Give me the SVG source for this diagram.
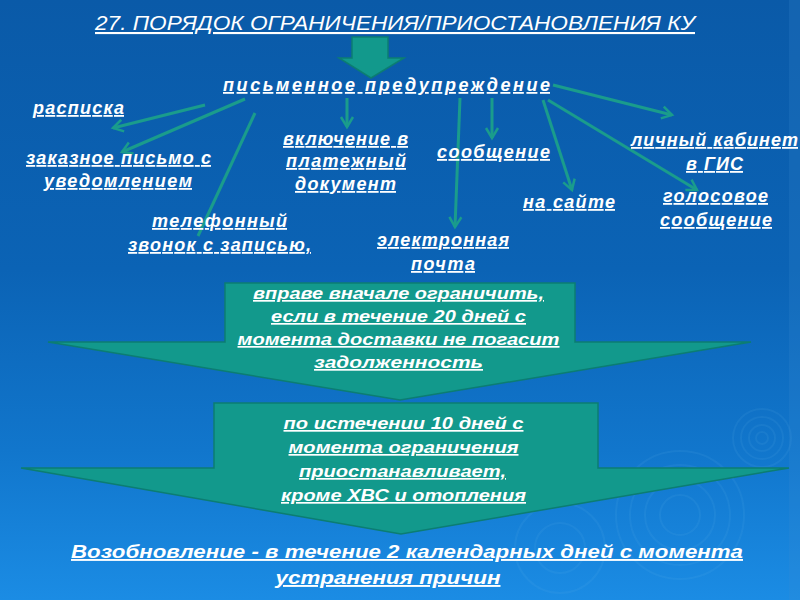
<svg xmlns="http://www.w3.org/2000/svg" width="800" height="600" viewBox="0 0 800 600">
<defs>
<linearGradient id="bg" x1="0" y1="0" x2="0" y2="1">
<stop offset="0" stop-color="#0a5aa8"/>
<stop offset="0.45" stop-color="#0b63b5"/>
<stop offset="0.75" stop-color="#1176cc"/>
<stop offset="1" stop-color="#1b8ce4"/>
</linearGradient>
<marker id="ah" markerUnits="userSpaceOnUse" markerWidth="16" markerHeight="16" refX="13" refY="8" orient="auto">
<path d="M3,2 L13,8 L3,14" fill="none" stroke="#1a9c8c" stroke-width="2.5"/>
</marker>
<style>
.lbl{font-family:"Liberation Sans",Arial,sans-serif;font-weight:bold;font-style:italic;font-size:18px;fill:#fff;text-decoration:underline;text-anchor:middle}
.ttl{font-family:"Liberation Sans",Arial,sans-serif;font-style:italic;font-size:21px;fill:#fff;text-decoration:underline;text-anchor:middle}
.arr{font-family:"Liberation Sans",Arial,sans-serif;font-weight:bold;font-style:italic;font-size:17px;fill:#fff;text-decoration:underline;text-anchor:middle}
.bot{font-family:"Liberation Sans",Arial,sans-serif;font-weight:bold;font-style:italic;font-size:19px;fill:#fff;text-decoration:underline;text-anchor:middle}
.con{stroke:#1a9c8c;stroke-width:3;fill:none}
.big{fill:#12998c;stroke:#0c7d72;stroke-width:1.5}
.rip{fill:none;stroke:#6ab8f0;stroke-opacity:0.1;stroke-width:2}
</style>
</defs>
<rect width="800" height="600" fill="url(#bg)"/>
<rect x="789" y="0" width="11" height="600" fill="#3a8ad0" opacity="0.2"/>
<g id="ripples">
<circle class="rip" cx="762" cy="438" r="6"/>
<circle class="rip" cx="762" cy="438" r="13"/>
<circle class="rip" cx="762" cy="438" r="21"/>
<circle class="rip" cx="762" cy="438" r="29"/>
<circle class="rip" cx="680" cy="515" r="20"/>
<circle class="rip" cx="680" cy="515" r="35"/>
<circle class="rip" cx="680" cy="515" r="50"/>
<circle class="rip" cx="680" cy="515" r="64"/>
<circle class="rip" cx="560" cy="548" r="25"/>
<circle class="rip" cx="560" cy="548" r="45"/>
</g>
<g id="title"><text class="ttl" x="395" y="30" textLength="600" lengthAdjust="spacingAndGlyphs">27. ПОРЯДОК ОГРАНИЧЕНИЯ/ПРИОСТАНОВЛЕНИЯ КУ</text></g>
<g id="top-arrow"><path class="big" d="M352,37 H388 V58 H404 L371,78 L339,58 H352 Z"/></g>
<g id="warning"><text class="lbl" x="386.5" y="91" textLength="327" lengthAdjust="spacing">письменное предупреждение</text></g>
<g id="connectors">
<line class="con" x1="205" y1="105" x2="113" y2="128" marker-end="url(#ah)"/>
<line class="con" x1="245" y1="99" x2="122" y2="152" marker-end="url(#ah)"/>
<line class="con" x1="255" y1="113" x2="198" y2="236"/>
<line class="con" x1="347" y1="98" x2="347" y2="127" marker-end="url(#ah)"/>
<line class="con" x1="460" y1="98" x2="455" y2="227" marker-end="url(#ah)"/>
<line class="con" x1="492" y1="98" x2="492" y2="138" marker-end="url(#ah)"/>
<line class="con" x1="543" y1="100" x2="572" y2="190" marker-end="url(#ah)"/>
<line class="con" x1="548" y1="100" x2="697" y2="190" marker-end="url(#ah)"/>
<line class="con" x1="553" y1="85" x2="672" y2="115" marker-end="url(#ah)"/>
</g>
<g id="n-raspiska"><text class="lbl" x="78.5" y="114" textLength="91" lengthAdjust="spacing">расписка</text></g>
<g id="n-zakaznoe"><text class="lbl" x="118.5" y="164" textLength="185" lengthAdjust="spacing">заказное письмо с</text><text class="lbl" x="118" y="187" textLength="148" lengthAdjust="spacing">уведомлением</text></g>
<g id="n-telefon"><text class="lbl" x="219.5" y="227" textLength="135" lengthAdjust="spacing">телефонный</text><text class="lbl" x="219.5" y="251" textLength="183" lengthAdjust="spacing">звонок с записью,</text></g>
<g id="n-vkluchenie"><text class="lbl" x="345.5" y="145" textLength="125" lengthAdjust="spacing">включение в</text><text class="lbl" x="346" y="167" textLength="120" lengthAdjust="spacing">платежный</text><text class="lbl" x="345.5" y="190" textLength="101" lengthAdjust="spacing">документ</text></g>
<g id="n-soobshenie"><text class="lbl" x="493.5" y="158" textLength="113" lengthAdjust="spacing">сообщение</text></g>
<g id="n-email"><text class="lbl" x="443" y="246" textLength="132" lengthAdjust="spacing">электронная</text><text class="lbl" x="443" y="270" textLength="64" lengthAdjust="spacing">почта</text></g>
<g id="n-site"><text class="lbl" x="569" y="208" textLength="92" lengthAdjust="spacing">на сайте</text></g>
<g id="n-gis"><text class="lbl" x="714.5" y="146" textLength="167" lengthAdjust="spacing">личный кабинет</text><text class="lbl" x="714.5" y="170" textLength="57" lengthAdjust="spacing">в ГИС</text></g>
<g id="n-voice"><text class="lbl" x="715.5" y="202" textLength="105" lengthAdjust="spacing">голосовое</text><text class="lbl" x="716" y="226" textLength="112" lengthAdjust="spacing">сообщение</text></g>
<g id="arrow1">
<path class="big" d="M225,283 H575 V342 H751 L400,400 L48,342 H225 Z"/>
<text class="arr" x="398.5" y="299" textLength="291" lengthAdjust="spacingAndGlyphs">вправе вначале ограничить,</text>
<text class="arr" x="398.5" y="322" textLength="255" lengthAdjust="spacingAndGlyphs">если в течение 20 дней с</text>
<text class="arr" x="398.5" y="345" textLength="322" lengthAdjust="spacingAndGlyphs">момента доставки не погасит</text>
<text class="arr" x="398.5" y="368" textLength="169" lengthAdjust="spacingAndGlyphs">задолженность </text>
</g>
<g id="arrow2">
<path class="big" d="M214,403 H598 V468 H789 L401,534 L21,468 H214 Z"/>
<text class="arr" x="403.5" y="429" textLength="240" lengthAdjust="spacingAndGlyphs">по истечении 10 дней с</text>
<text class="arr" x="403.5" y="453" textLength="230" lengthAdjust="spacingAndGlyphs">момента ограничения</text>
<text class="arr" x="402.5" y="477" textLength="207" lengthAdjust="spacingAndGlyphs">приостанавливает,</text>
<text class="arr" x="403.5" y="501" textLength="245" lengthAdjust="spacingAndGlyphs">кроме ХВС и отопления</text>
</g>
<g id="resume">
<text class="bot" x="407" y="558" textLength="672" lengthAdjust="spacingAndGlyphs">Возобновление - в течение 2 календарных дней с момента</text>
<text class="bot" x="388" y="584" textLength="225" lengthAdjust="spacingAndGlyphs">устранения причин</text>
</g>
</svg>
